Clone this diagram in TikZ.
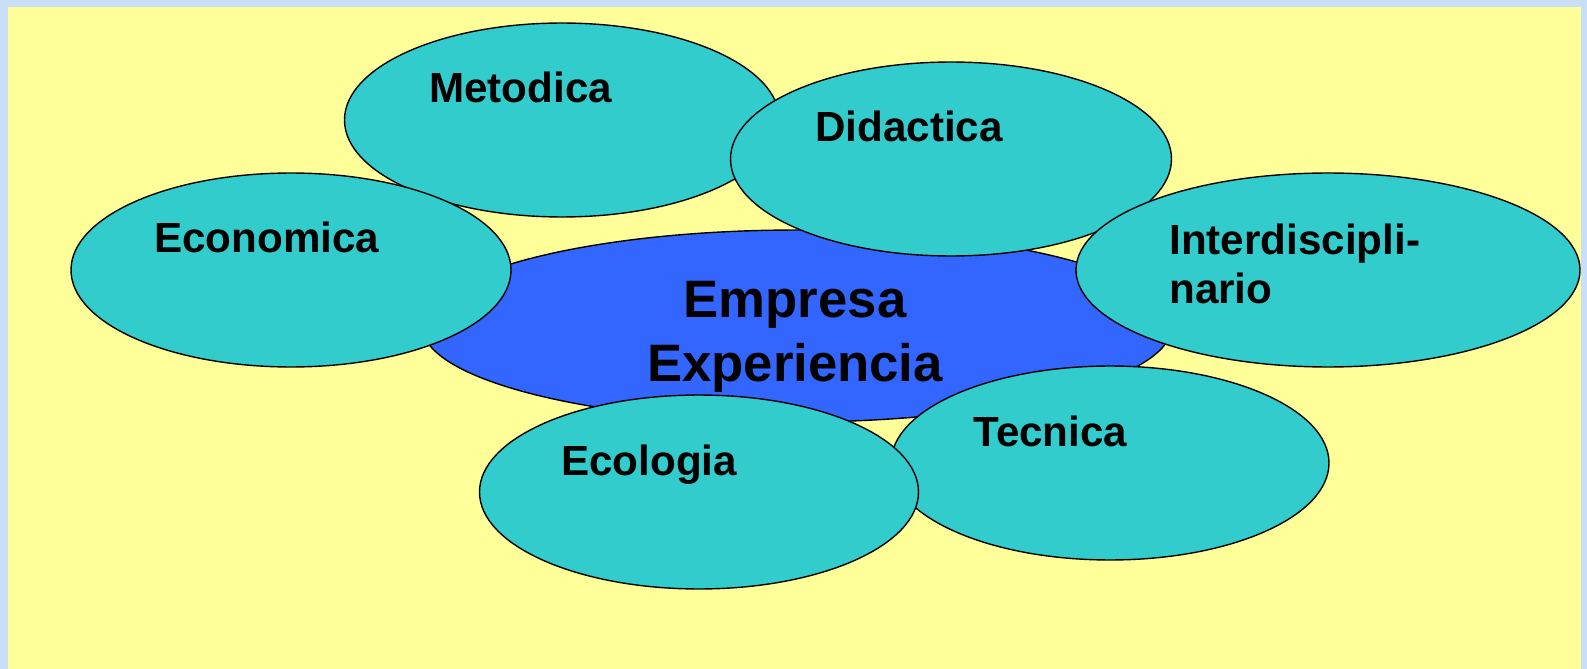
\documentclass[tikz,border=0pt]{standalone}
\usepackage{fontspec}
\setmainfont{Liberation Sans}
\usepackage{tikz}
\usetikzlibrary{shapes}
\definecolor{framebl}{RGB}{201,222,247}
\definecolor{bgyellow}{RGB}{255,255,153}
\definecolor{petalcyan}{RGB}{51,204,204}
\definecolor{coreblue}{RGB}{51,102,255}
\tikzstyle{petal} = [ellipse, draw=black, line width=0.8pt, fill=petalcyan, inner sep=0pt, minimum height=3.88cm]
\tikzstyle{lbl}   = [inner sep=0pt, font=\bfseries\fontsize{24}{27.8}\selectfont]

\begin{document}
\begin{tikzpicture}[x=0.02cm, y=-0.02cm]
        \fill[framebl] (0,0) rectangle (1587,669);
        \fill[bgyellow] (8,7) rectangle (1581,669);
        \useasboundingbox (0,0) rectangle (1587,669);
        % centre ellipse first, petals on top
        \node[petal, fill=coreblue, minimum width=15cm, minimum height=3.84cm] (core) at (797,326) {};
        \foreach \nm/\x/\y/\w in {met/562/120/435, did/951/159/441, eco/291/270/440, inter/1328/270/504, tec/1110/463/438, ecol/699/492/439}
        {
            \node[petal, minimum width=\w*0.02cm] (\nm) at (\x,\y) {};
        }
        \node[lbl, anchor=base west] (metT) at (429,103) {Metodica};
        \node[lbl, anchor=base west] (didT) at (815,142) {Didactica};
        \node[lbl, anchor=base west] (ecoT) at (154,253) {Economica};
        \node[lbl, anchor=north west, align=left] (interT) at (1169,224) {Interdiscipli-\\nario};
        \node[lbl, anchor=base west] (tecT) at (973,446) {Tecnica};
        \node[lbl, anchor=base west] (ecolT) at (561,475) {Ecologia};
        \node[lbl, anchor=north, align=center, font=\bfseries\fontsize{30}{36.3}\selectfont] (coreT) at (795,281) {Empresa\\Experiencia};
    \end{tikzpicture}
\end{document}
